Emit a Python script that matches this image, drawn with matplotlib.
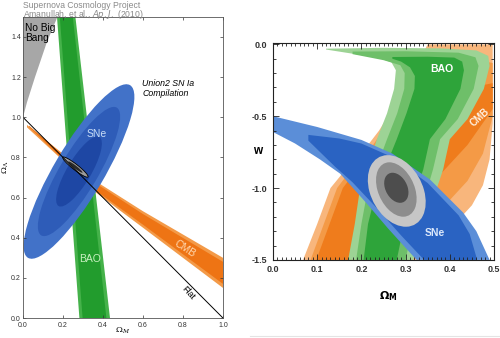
import matplotlib
matplotlib.use("Agg")
import matplotlib.pyplot as plt
import numpy as np
from matplotlib.lines import Line2D
from matplotlib.patches import Ellipse

plt.rcParams["font.family"] = ["Liberation Sans", "DejaVu Sans"]
plt.rcParams["axes.unicode_minus"] = False

# ---- left panel: (Omega_M, Omega_Lambda) ----
NO_BIG_BANG = [(0.0, 1.5), (0.0, 1.0), (0.02, 1.075), (0.06, 1.2), (0.118, 1.37),
               (0.168, 1.49), (0.172, 1.5)]
FLAT_OM = [0.0, 1.0]
FLAT_OL = [1.0, 0.0]

BAO_L_OUTER = [(0.17, 1.5), (0.262, 1.5), (0.435, 0.0), (0.282, 0.0)]
BAO_L_INNER = [(0.184, 1.5), (0.249, 1.5), (0.417, 0.0), (0.298, 0.0)]

CMB_L_OUTER = [(0.02, 0.962), (0.2, 0.818), (0.35, 0.69), (0.6, 0.532), (1.0, 0.30),
               (1.0, 0.15), (0.6, 0.45), (0.35, 0.636), (0.2, 0.784), (0.02, 0.95)]
CMB_L_INNER = [(0.03, 0.958), (0.2, 0.812), (0.35, 0.68), (0.6, 0.518), (1.0, 0.28),
               (1.0, 0.17), (0.6, 0.465), (0.35, 0.645), (0.2, 0.79), (0.03, 0.953)]

# SNe confidence ellipses: centre, full width, full height, angle
SNE_L_CENTER = (0.28, 0.73)
SNE_L_WIDTH = [1.0, 0.74, 0.40]
SNE_L_HEIGHT = [0.25, 0.19, 0.12]
SNE_L_ANGLE = 59.3

COMB_L_CENTER = (0.262, 0.752)
COMB_L_WIDTH = [0.16, 0.09]
COMB_L_HEIGHT = [0.028, 0.014]
COMB_L_ANGLE = -38

# ---- right panel: (Omega_M, w) ----
CMB_R_OUTER = [(0.068, -1.5), (0.1, -1.25), (0.13, -1.0), (0.17, -0.85), (0.21, -0.72),
               (0.24, -0.6), (0.29, -0.35), (0.33, -0.12), (0.35, 0.0), (0.497, 0.0),
               (0.497, -0.55), (0.49, -0.8), (0.475, -0.98), (0.45, -1.12), (0.42, -1.22),
               (0.36, -1.35), (0.33, -1.5)]
CMB_R_MID = [(0.085, -1.5), (0.115, -1.25), (0.145, -1.0), (0.182, -0.85), (0.222, -0.72),
             (0.26, -0.55), (0.31, -0.35), (0.37, -0.16), (0.45, -0.1), (0.497, -0.13),
             (0.497, -0.5), (0.475, -0.76), (0.44, -0.95), (0.38, -1.15), (0.3, -1.5)]
CMB_R_INNER = [(0.098, -1.5), (0.128, -1.25), (0.158, -1.0), (0.195, -0.85), (0.235, -0.72),
               (0.28, -0.55), (0.33, -0.42), (0.4, -0.33), (0.497, -0.27), (0.497, -0.45),
               (0.44, -0.7), (0.38, -0.9), (0.3, -1.2), (0.26, -1.5)]

BAO_R_OUTER = [(0.12, -0.03), (0.25, -0.024), (0.38, -0.028), (0.46, -0.042), (0.487, -0.08),
               (0.49, -0.15), (0.477, -0.31), (0.44, -0.52), (0.40, -0.66), (0.385, -0.87),
               (0.36, -1.1), (0.33, -1.35), (0.317, -1.5), (0.17, -1.5), (0.185, -1.25),
               (0.197, -1.0), (0.215, -0.85), (0.235, -0.66), (0.258, -0.48), (0.274, -0.31),
               (0.278, -0.18), (0.268, -0.125), (0.24, -0.095), (0.18, -0.065), (0.12, -0.036)]
BAO_R_MID = [(0.18, -0.05), (0.30, -0.048), (0.42, -0.058), (0.458, -0.09), (0.465, -0.15),
             (0.454, -0.31), (0.418, -0.52), (0.378, -0.66), (0.362, -0.87), (0.34, -1.1),
             (0.31, -1.35), (0.30, -1.5), (0.188, -1.5), (0.2, -1.25), (0.215, -1.0),
             (0.235, -0.85), (0.258, -0.66), (0.281, -0.48), (0.297, -0.31), (0.298, -0.2),
             (0.288, -0.145), (0.25, -0.11), (0.18, -0.068)]
BAO_R_INNER = [(0.27, -0.088), (0.35, -0.086), (0.41, -0.092), (0.428, -0.12), (0.432, -0.18),
               (0.424, -0.31), (0.39, -0.52), (0.355, -0.66), (0.34, -0.87), (0.315, -1.1),
               (0.29, -1.35), (0.28, -1.5), (0.205, -1.5), (0.215, -1.25), (0.235, -1.0),
               (0.255, -0.85), (0.28, -0.66), (0.302, -0.48), (0.32, -0.31), (0.321, -0.22),
               (0.31, -0.16), (0.29, -0.12), (0.27, -0.1)]

SNE_R_OUTER = [(0.0, -0.50), (0.1, -0.575), (0.2, -0.665), (0.27, -0.76), (0.355, -0.94),
               (0.43, -1.17), (0.46, -1.3), (0.49, -1.5), (0.325, -1.5), (0.31, -1.45),
               (0.26, -1.28), (0.21, -1.1), (0.152, -0.9), (0.106, -0.8), (0.05, -0.69),
               (0.0, -0.61)]
SNE_R_INNER = [(0.08, -0.63), (0.15, -0.655), (0.2, -0.69), (0.27, -0.785), (0.35, -0.965),
               (0.42, -1.19), (0.445, -1.32), (0.462, -1.5), (0.342, -1.5), (0.29, -1.33),
               (0.235, -1.14), (0.18, -0.96), (0.14, -0.85), (0.11, -0.76), (0.08, -0.67)]

COMB_R_CENTER = [(0.28, -1.02), (0.279, -1.01), (0.279, -0.998)]
COMB_R_WIDTH = [0.124, 0.086, 0.052]
COMB_R_HEIGHT = [0.50, 0.38, 0.21]
COMB_R_ANGLE = 5

fig = plt.figure(figsize=(5.0, 3.38), dpi=100)

# ---------------- left panel ----------------
ax = fig.add_axes([0.046, 0.059, 0.40, 0.891])
ax.fill(*np.array(NO_BIG_BANG).T, color="#a7a7a7", lw=0)
ax.fill(*np.array(CMB_L_OUTER).T, color="#f39a48", lw=0)
ax.fill(*np.array(CMB_L_INNER).T, color="#ee7414", lw=0)
ax.fill(*np.array(BAO_L_OUTER).T, color="#45b24a", lw=0)
ax.fill(*np.array(BAO_L_INNER).T, color="#229c2d", lw=0)
for w, h, c in zip(SNE_L_WIDTH, SNE_L_HEIGHT, ["#4272c8", "#2e5cb8", "#1e47a4"]):
    ax.add_patch(Ellipse(SNE_L_CENTER, w, h, angle=SNE_L_ANGLE, color=c, lw=0))
ax.add_patch(Ellipse(COMB_L_CENTER, COMB_L_WIDTH[0], COMB_L_HEIGHT[0], angle=COMB_L_ANGLE,
                     facecolor="#9c9c9c", edgecolor="black", lw=0.6))
ax.add_patch(Ellipse(COMB_L_CENTER, COMB_L_WIDTH[1], COMB_L_HEIGHT[1], angle=COMB_L_ANGLE,
                     facecolor="#2a2a2a", lw=0))
ax.plot(FLAT_OM, FLAT_OL, color="black", lw=0.7)

ax.text(0.012, 1.472, "No Big\nBang", fontsize=7.3, va="top", ha="left", linespacing=1.0)
ax.text(0.597, 1.19, "Union2 SN Ia\nCompilation", fontsize=6.3, style="italic",
        va="top", ha="left", linespacing=1.15)
ax.text(0.37, 0.915, "SNe", fontsize=7.5, color="#c8dcf6", ha="center", va="center")
ax.text(0.335, 0.295, "BAO", fontsize=7.5, color="#c8f0c0", ha="center", va="center")
ax.text(0.81, 0.345, "CMB", fontsize=7.5, color="#ffd9b0", ha="center", va="center",
        rotation=-33)
ax.text(0.825, 0.125, "Flat", fontsize=6.5, ha="center", va="center", rotation=-48)

ax.set_xlim(0, 1.0)
ax.set_ylim(0, 1.5)
ax.set_xticks(np.arange(0, 1.01, 0.2))
ax.set_yticks(np.arange(0, 1.41, 0.2))
ax.xaxis.set_major_formatter(plt.FormatStrFormatter("%.1f"))
ax.yaxis.set_major_formatter(plt.FormatStrFormatter("%.1f"))
ax.tick_params(direction="in", top=True, right=True, length=2.5, width=0.5,
               labelsize=5, pad=1.5, colors="#333333")
ax.tick_params(axis="x", pad=2.6)
for s in ax.spines.values():
    s.set_linewidth(0.6)
    s.set_color("#555555")
ax.set_xlabel(r"$\Omega_M$", fontsize=6, math_fontfamily="dejavuserif")
ax.xaxis.set_label_coords(0.5, -0.027)
ax.set_ylabel(r"$\Omega_\Lambda$", fontsize=6, math_fontfamily="dejavuserif")
ax.yaxis.set_label_coords(-0.058, 0.5)

fig.text(0.046, 1 - 5 / 338, "Supernova Cosmology Project", fontsize=6.2, color="#8a8a8a",
         va="center", ha="left")
fig.text(0.046, 1 - 14.5 / 338, r"Amanullah, et al., $\it{Ap.J.}$ (2010)", fontsize=6.2,
         color="#8a8a8a", va="center", ha="left", math_fontfamily="dejavusans")

# ---------------- right panel ----------------
bx = fig.add_axes([0.546, 0.231, 0.442, 0.642])
bx.fill(*np.array(CMB_R_OUTER).T, color="#f8b67c", lw=0)
bx.fill(*np.array(CMB_R_MID).T, color="#f49a46", lw=0)
bx.fill(*np.array(CMB_R_INNER).T, color="#ef7c1c", lw=0)
bx.fill(*np.array(BAO_R_OUTER).T, color="#9dd395", lw=0)
bx.fill(*np.array(BAO_R_MID).T, color="#6ebf69", lw=0)
bx.fill(*np.array(BAO_R_INNER).T, color="#2ea43a", lw=0)
bx.fill(*np.array(SNE_R_OUTER).T, color="#5b8ed8", lw=0)
bx.fill(*np.array(SNE_R_INNER).T, color="#2a63c2", lw=0)
for cen, w, h, c in zip(COMB_R_CENTER, COMB_R_WIDTH, COMB_R_HEIGHT,
                        ["#c6c6c6", "#8d8d8d", "#4d4d4d"]):
    bx.add_patch(Ellipse(cen, w, h, angle=COMB_R_ANGLE, color=c, lw=0))

bx.text(0.382, -0.17, "BAO", fontsize=7.5, color="white", fontweight="bold",
        ha="center", va="center")
bx.text(0.468, -0.51, "CMB", fontsize=7, color="#fff0e0", fontweight="bold",
        ha="center", va="center", rotation=42)
bx.text(0.366, -1.31, "SNe", fontsize=7.5, color="#dbe8fb", fontweight="bold",
        ha="center", va="center")

bx.set_xlim(0, 0.5)
bx.set_ylim(-1.5, 0.01)
bx.set_xticks(np.arange(0, 0.51, 0.1))
bx.set_yticks([-1.5, -1.0, -0.5, 0.0])
bx.set_xticks(np.arange(0, 0.501, 0.01), minor=True)
bx.set_yticks(np.arange(-1.5, 0.01, 0.1), minor=True)
bx.xaxis.set_major_formatter(plt.FormatStrFormatter("%.1f"))
bx.yaxis.set_major_formatter(plt.FormatStrFormatter("%.1f"))
bx.tick_params(which="both", direction="in", top=True, right=True, width=0.6,
               colors="#222222")
bx.tick_params(which="major", length=4, labelsize=6.5, pad=4)
bx.tick_params(which="minor", length=2)
for lab in bx.get_xticklabels() + bx.get_yticklabels():
    lab.set_fontweight("bold")
    lab.set_color("#333333")
for s in bx.spines.values():
    s.set_linewidth(0.8)
    s.set_color("#222222")
bx.set_xlabel(r"$\mathbf{\Omega_M}$", fontsize=8, math_fontfamily="dejavusans")
bx.xaxis.set_label_coords(0.52, -0.135)
bx.set_ylabel("w", fontsize=8.5, fontweight="bold", rotation=0, va="center", ha="center")
bx.yaxis.set_label_coords(-0.068, 0.5)

fig.add_artist(Line2D([0.5, 1.0], [1 - 336 / 338, 1 - 336 / 338], color="#e4e4e4", lw=0.8))

fig.savefig("out.png", dpi=100)
